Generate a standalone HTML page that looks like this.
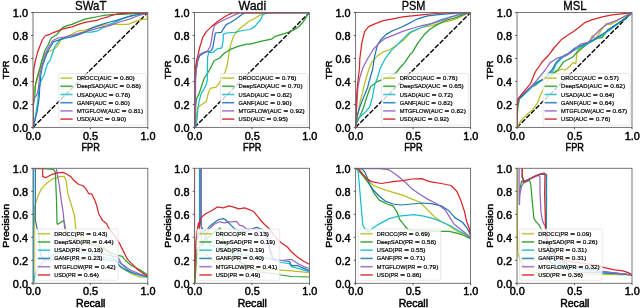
<!DOCTYPE html>
<html><head><meta charset="utf-8"><style>
html,body{margin:0;padding:0;background:#fff;width:640px;height:308px;overflow:hidden}
svg{display:block;will-change:transform}
text{font-family:"Liberation Sans", sans-serif}
</style></head><body>
<svg width="640" height="308" viewBox="0 0 640 308">
<rect width="640" height="308" fill="#fff"/>
<clipPath id="c00"><rect x="33.0" y="12.5" width="114.8" height="114.90"/></clipPath>
<g clip-path="url(#c00)">
<line x1="33.0" y1="127.4" x2="147.8" y2="12.5" stroke="#000" stroke-width="1.4" stroke-dasharray="5,1.6"/>
<path d="M33.00,127.30 L33.00,95.00 L33.90,93.20 L34.50,88.00 L36.50,82.00 L38.30,75.00 L40.30,68.00 L41.80,62.00 L42.90,57.70 L45.60,52.80 L50.50,50.80 L52.80,49.70 L56.70,47.00 L59.30,43.20 L60.60,39.90 L64.50,38.00 L69.70,35.40 L72.00,34.00 L78.50,30.80 L85.00,30.20 L91.50,28.20 L98.00,26.30 L104.50,25.00 L110.00,24.00 L116.50,24.30 L128.20,24.30 L134.70,21.70 L141.20,19.70 L147.00,19.10 L147.50,12.80" fill="none" stroke="#bcbd22" stroke-width="1.25" stroke-linejoin="round"/>
<path d="M33.00,127.30 L33.20,106.20 L33.90,102.30 L34.90,95.80 L35.20,88.00 L36.00,82.00 L37.80,75.00 L39.80,68.40 L41.30,62.50 L42.70,57.70 L44.70,50.80 L48.10,45.00 L50.20,40.00 L51.50,38.00 L53.40,36.70 L56.70,34.70 L59.30,31.50 L62.50,27.60 L67.10,25.60 L72.00,24.30 L78.50,21.70 L85.00,19.10 L91.50,17.80 L98.00,16.50 L105.80,15.20 L112.00,14.50 L120.40,14.30 L129.50,14.00 L136.00,13.60 L147.50,12.80" fill="none" stroke="#2ca02c" stroke-width="1.25" stroke-linejoin="round"/>
<path d="M33.20,127.00 L34.20,123.00 L35.80,114.00 L37.80,101.00 L39.10,88.00 L40.40,82.50 L42.40,78.00 L44.20,75.00 L45.60,69.30 L47.60,63.50 L50.00,60.60 L52.00,54.70 L54.70,47.00 L57.30,43.20 L59.90,39.90 L63.20,38.00 L67.10,37.30 L72.00,36.50 L78.50,34.10 L85.00,32.10 L91.50,32.10 L98.00,30.80 L101.90,28.20 L107.10,26.30 L110.00,24.30 L116.50,21.70 L123.00,18.40 L129.50,16.50 L138.60,14.50 L147.50,12.80" fill="none" stroke="#17becf" stroke-width="1.25" stroke-linejoin="round"/>
<path d="M33.00,127.30 L33.60,125.70 L35.20,119.20 L37.10,111.40 L39.10,98.40 L39.70,88.00 L40.80,75.00 L42.20,67.40 L44.70,59.60 L48.10,50.80 L51.50,45.00 L53.40,41.90 L59.30,39.90 L65.80,38.00 L72.00,37.00 L78.50,34.70 L85.00,32.10 L91.50,28.20 L98.00,25.60 L104.50,23.70 L110.00,22.00 L116.50,20.40 L123.00,18.40 L130.80,15.80 L138.60,14.50 L147.50,12.80" fill="none" stroke="#1f77b4" stroke-width="1.25" stroke-linejoin="round"/>
<path d="M33.00,127.30 L33.20,100.00 L35.20,97.10 L37.10,94.50 L38.40,88.00 L39.80,75.00 L41.70,66.40 L43.70,59.60 L46.60,50.80 L50.00,45.00 L52.80,40.50 L58.00,38.00 L63.20,37.30 L68.40,36.00 L72.00,35.40 L78.50,33.40 L85.00,31.50 L91.50,30.20 L98.00,28.20 L104.50,26.30 L110.00,25.60 L116.50,23.00 L123.00,21.00 L129.50,19.10 L136.00,16.50 L142.50,14.50 L147.50,12.80" fill="none" stroke="#9467bd" stroke-width="1.25" stroke-linejoin="round"/>
<path d="M33.00,127.30 L32.90,88.00 L33.30,78.00 L33.50,75.00 L33.90,68.40 L35.40,60.60 L37.40,52.80 L40.30,45.00 L42.50,39.50 L45.00,36.00 L48.90,34.70 L52.80,32.80 L58.00,30.80 L63.20,28.90 L68.40,27.60 L72.00,26.90 L78.50,24.30 L85.00,22.40 L91.50,21.10 L96.70,20.40 L101.90,18.50 L107.10,17.20 L110.00,15.80 L117.80,13.90 L129.50,13.20 L147.50,12.90" fill="none" stroke="#d62728" stroke-width="1.25" stroke-linejoin="round"/>
</g>
<rect x="58.80" y="73.50" width="87.20" height="51.60" rx="1.5" fill="#fff" fill-opacity="0.8" stroke="#d8d8d8" stroke-width="0.6"/>
<line x1="60.40" y1="78.10" x2="72.60" y2="78.10" stroke="#bcbd22" stroke-width="1.6" stroke-opacity="0.85"/>
<text x="76.90" y="80.10" font-size="6.22" textLength="34.76" lengthAdjust="spacingAndGlyphs" fill="#000" stroke="#000" stroke-width="0.2">DROCC(AUC</text>
<text x="113.46" y="80.10" font-size="6.22" textLength="4.73" lengthAdjust="spacingAndGlyphs" fill="#000" stroke="#000" stroke-width="0.2">=</text>
<text x="119.99" y="80.10" font-size="6.22" textLength="14.78" lengthAdjust="spacingAndGlyphs" fill="#000" stroke="#000" stroke-width="0.2">0.80)</text>
<line x1="60.40" y1="86.30" x2="72.60" y2="86.30" stroke="#2ca02c" stroke-width="1.6" stroke-opacity="0.85"/>
<text x="76.90" y="88.30" font-size="6.22" textLength="40.95" lengthAdjust="spacingAndGlyphs" fill="#000" stroke="#000" stroke-width="0.2">DeepSAD(AUC</text>
<text x="119.64" y="88.30" font-size="6.22" textLength="4.73" lengthAdjust="spacingAndGlyphs" fill="#000" stroke="#000" stroke-width="0.2">=</text>
<text x="126.17" y="88.30" font-size="6.22" textLength="14.78" lengthAdjust="spacingAndGlyphs" fill="#000" stroke="#000" stroke-width="0.2">0.88)</text>
<line x1="60.40" y1="94.50" x2="72.60" y2="94.50" stroke="#17becf" stroke-width="1.6" stroke-opacity="0.85"/>
<text x="76.90" y="96.50" font-size="6.22" textLength="30.19" lengthAdjust="spacingAndGlyphs" fill="#000" stroke="#000" stroke-width="0.2">USAD(AUC</text>
<text x="108.89" y="96.50" font-size="6.22" textLength="4.73" lengthAdjust="spacingAndGlyphs" fill="#000" stroke="#000" stroke-width="0.2">=</text>
<text x="115.42" y="96.50" font-size="6.22" textLength="14.78" lengthAdjust="spacingAndGlyphs" fill="#000" stroke="#000" stroke-width="0.2">0.78)</text>
<line x1="60.40" y1="102.70" x2="72.60" y2="102.70" stroke="#1f77b4" stroke-width="1.6" stroke-opacity="0.85"/>
<text x="76.90" y="104.70" font-size="6.22" textLength="29.87" lengthAdjust="spacingAndGlyphs" fill="#000" stroke="#000" stroke-width="0.2">GANF(AUC</text>
<text x="108.57" y="104.70" font-size="6.22" textLength="4.73" lengthAdjust="spacingAndGlyphs" fill="#000" stroke="#000" stroke-width="0.2">=</text>
<text x="115.10" y="104.70" font-size="6.22" textLength="14.78" lengthAdjust="spacingAndGlyphs" fill="#000" stroke="#000" stroke-width="0.2">0.80)</text>
<line x1="60.40" y1="110.90" x2="72.60" y2="110.90" stroke="#9467bd" stroke-width="1.6" stroke-opacity="0.85"/>
<text x="76.90" y="112.90" font-size="6.22" textLength="43.08" lengthAdjust="spacingAndGlyphs" fill="#000" stroke="#000" stroke-width="0.2">MTGFLOW(AUC</text>
<text x="121.78" y="112.90" font-size="6.22" textLength="4.73" lengthAdjust="spacingAndGlyphs" fill="#000" stroke="#000" stroke-width="0.2">=</text>
<text x="128.31" y="112.90" font-size="6.22" textLength="14.78" lengthAdjust="spacingAndGlyphs" fill="#000" stroke="#000" stroke-width="0.2">0.81)</text>
<line x1="60.40" y1="119.10" x2="72.60" y2="119.10" stroke="#d62728" stroke-width="1.6" stroke-opacity="0.85"/>
<text x="76.90" y="121.10" font-size="6.22" textLength="26.22" lengthAdjust="spacingAndGlyphs" fill="#000" stroke="#000" stroke-width="0.2">USD(AUC</text>
<text x="104.92" y="121.10" font-size="6.22" textLength="4.73" lengthAdjust="spacingAndGlyphs" fill="#000" stroke="#000" stroke-width="0.2">=</text>
<text x="111.45" y="121.10" font-size="6.22" textLength="14.78" lengthAdjust="spacingAndGlyphs" fill="#000" stroke="#000" stroke-width="0.2">0.90)</text>
<rect x="33.0" y="12.5" width="114.8" height="114.90" fill="none" stroke="#666" stroke-width="0.9"/>
<line x1="31.2" y1="127.40" x2="33.0" y2="127.40" stroke="#444" stroke-width="0.9"/>
<text x="28.00" y="132.00" font-size="10.26" text-anchor="end" textLength="15.11" lengthAdjust="spacingAndGlyphs" fill="#000" stroke="#000" stroke-width="0.45" >0.0</text>
<line x1="31.2" y1="104.42" x2="33.0" y2="104.42" stroke="#444" stroke-width="0.9"/>
<text x="28.00" y="109.02" font-size="10.26" text-anchor="end" textLength="15.11" lengthAdjust="spacingAndGlyphs" fill="#000" stroke="#000" stroke-width="0.45" >0.2</text>
<line x1="31.2" y1="81.44" x2="33.0" y2="81.44" stroke="#444" stroke-width="0.9"/>
<text x="28.00" y="86.04" font-size="10.26" text-anchor="end" textLength="15.11" lengthAdjust="spacingAndGlyphs" fill="#000" stroke="#000" stroke-width="0.45" >0.4</text>
<line x1="31.2" y1="58.46" x2="33.0" y2="58.46" stroke="#444" stroke-width="0.9"/>
<text x="28.00" y="63.06" font-size="10.26" text-anchor="end" textLength="15.11" lengthAdjust="spacingAndGlyphs" fill="#000" stroke="#000" stroke-width="0.45" >0.6</text>
<line x1="31.2" y1="35.48" x2="33.0" y2="35.48" stroke="#444" stroke-width="0.9"/>
<text x="28.00" y="40.08" font-size="10.26" text-anchor="end" textLength="15.11" lengthAdjust="spacingAndGlyphs" fill="#000" stroke="#000" stroke-width="0.45" >0.8</text>
<line x1="31.2" y1="12.50" x2="33.0" y2="12.50" stroke="#444" stroke-width="0.9"/>
<text x="28.00" y="17.10" font-size="10.26" text-anchor="end" textLength="15.11" lengthAdjust="spacingAndGlyphs" fill="#000" stroke="#000" stroke-width="0.45" >1.0</text>
<line x1="33.00" y1="127.4" x2="33.00" y2="129.20000000000002" stroke="#444" stroke-width="0.9"/>
<text x="33.20" y="139.80" font-size="10.26" text-anchor="middle" textLength="15.11" lengthAdjust="spacingAndGlyphs" fill="#000" stroke="#000" stroke-width="0.45" >0.0</text>
<line x1="90.40" y1="127.4" x2="90.40" y2="129.20000000000002" stroke="#444" stroke-width="0.9"/>
<text x="90.60" y="139.80" font-size="10.26" text-anchor="middle" textLength="15.11" lengthAdjust="spacingAndGlyphs" fill="#000" stroke="#000" stroke-width="0.45" >0.5</text>
<line x1="147.80" y1="127.4" x2="147.80" y2="129.20000000000002" stroke="#444" stroke-width="0.9"/>
<text x="148.00" y="139.80" font-size="10.26" text-anchor="middle" textLength="15.11" lengthAdjust="spacingAndGlyphs" fill="#000" stroke="#000" stroke-width="0.45" >1.0</text>
<text x="90.70" y="151.10" font-size="10.00" text-anchor="middle" textLength="18.36" lengthAdjust="spacingAndGlyphs" fill="#000" stroke="#000" stroke-width="0.45" >FPR</text>
<text x="0.00" y="0.00" font-size="9.51" text-anchor="middle" textLength="18.71" lengthAdjust="spacingAndGlyphs" fill="#000" stroke="#000" stroke-width="0.45" transform="translate(9.30,69.95) rotate(-90)">TPR</text>
<text x="90.80" y="9.60" font-size="12.20" text-anchor="middle" textLength="31.45" lengthAdjust="spacingAndGlyphs" fill="#000" stroke="#000" stroke-width="0.3" >SWaT</text>
<clipPath id="c01"><rect x="194.5" y="12.5" width="115.0" height="114.90"/></clipPath>
<g clip-path="url(#c01)">
<line x1="194.5" y1="127.4" x2="309.5" y2="12.5" stroke="#000" stroke-width="1.4" stroke-dasharray="5,1.6"/>
<path d="M194.90,127.30 L196.50,117.00 L197.20,107.90 L199.10,106.60 L202.40,104.00 L206.30,101.40 L208.20,93.60 L210.20,88.40 L216.00,87.10 L219.30,83.20 L221.50,78.00 L224.00,74.00 L225.80,70.00 L227.10,66.00 L228.40,56.90 L229.50,50.00 L231.00,43.90 L233.90,35.30 L238.80,29.50 L243.70,25.60 L248.50,21.70 L252.00,19.70 L255.80,17.80 L260.70,14.90 L263.60,12.60 L309.30,12.60" fill="none" stroke="#bcbd22" stroke-width="1.25" stroke-linejoin="round"/>
<path d="M194.90,127.30 L195.20,110.50 L196.50,98.80 L199.10,93.60 L201.70,85.80 L204.30,78.00 L206.30,75.10 L208.90,71.20 L211.50,66.00 L214.10,60.80 L219.30,58.20 L224.50,53.00 L231.00,49.10 L238.80,46.10 L246.60,44.10 L250.00,44.10 L261.70,41.20 L271.40,39.20 L275.30,36.30 L285.10,33.40 L292.90,30.50 L297.80,27.50 L302.60,22.70 L306.50,16.80 L308.50,12.90 L309.30,12.60" fill="none" stroke="#2ca02c" stroke-width="1.25" stroke-linejoin="round"/>
<path d="M195.50,127.30 L196.50,122.00 L197.20,118.00 L197.80,109.20 L199.10,101.40 L201.10,93.60 L203.70,89.70 L206.30,84.50 L207.30,80.00 L207.60,57.00 L208.90,52.30 L213.40,52.30 L216.70,49.10 L221.90,47.80 L223.20,40.00 L223.20,34.40 L226.10,33.00 L234.90,32.40 L242.70,30.50 L250.00,29.50 L254.90,26.60 L257.80,22.70 L260.70,19.70 L262.70,14.90 L265.60,13.50 L269.50,12.60 L309.30,12.60" fill="none" stroke="#17becf" stroke-width="1.25" stroke-linejoin="round"/>
<path d="M194.90,127.30 L195.20,80.00 L195.90,72.50 L197.80,60.80 L199.80,55.60 L205.00,52.30 L210.80,51.00 L212.80,47.80 L214.10,40.00 L215.40,33.00 L221.20,32.40 L226.10,24.60 L230.00,22.70 L234.90,19.70 L238.80,16.80 L242.70,13.90 L245.60,12.60 L309.30,12.60" fill="none" stroke="#1f77b4" stroke-width="1.25" stroke-linejoin="round"/>
<path d="M194.90,127.00 L195.50,107.00 L195.60,80.00 L196.50,66.00 L197.80,58.20 L199.80,54.30 L203.70,52.30 L207.60,50.90 L210.20,46.50 L211.50,40.00 L212.50,33.40 L214.40,25.60 L218.30,22.70 L224.20,19.70 L231.00,16.80 L236.80,13.90 L239.80,12.60 L309.30,12.60" fill="none" stroke="#9467bd" stroke-width="1.25" stroke-linejoin="round"/>
<path d="M194.60,127.30 L194.60,80.00 L195.20,69.90 L196.50,60.80 L198.50,53.00 L199.80,47.00 L201.10,43.00 L202.70,37.30 L206.60,31.40 L211.50,26.60 L217.30,21.70 L223.20,17.80 L229.00,14.30 L232.90,12.90 L309.30,12.60" fill="none" stroke="#d62728" stroke-width="1.25" stroke-linejoin="round"/>
</g>
<rect x="220.50" y="73.50" width="87.20" height="51.60" rx="1.5" fill="#fff" fill-opacity="0.8" stroke="#d8d8d8" stroke-width="0.6"/>
<line x1="222.10" y1="78.10" x2="234.30" y2="78.10" stroke="#bcbd22" stroke-width="1.6" stroke-opacity="0.85"/>
<text x="238.60" y="80.10" font-size="6.22" textLength="34.76" lengthAdjust="spacingAndGlyphs" fill="#000" stroke="#000" stroke-width="0.2">DROCC(AUC</text>
<text x="275.16" y="80.10" font-size="6.22" textLength="4.73" lengthAdjust="spacingAndGlyphs" fill="#000" stroke="#000" stroke-width="0.2">=</text>
<text x="281.69" y="80.10" font-size="6.22" textLength="14.78" lengthAdjust="spacingAndGlyphs" fill="#000" stroke="#000" stroke-width="0.2">0.76)</text>
<line x1="222.10" y1="86.30" x2="234.30" y2="86.30" stroke="#2ca02c" stroke-width="1.6" stroke-opacity="0.85"/>
<text x="238.60" y="88.30" font-size="6.22" textLength="40.95" lengthAdjust="spacingAndGlyphs" fill="#000" stroke="#000" stroke-width="0.2">DeepSAD(AUC</text>
<text x="281.34" y="88.30" font-size="6.22" textLength="4.73" lengthAdjust="spacingAndGlyphs" fill="#000" stroke="#000" stroke-width="0.2">=</text>
<text x="287.87" y="88.30" font-size="6.22" textLength="14.78" lengthAdjust="spacingAndGlyphs" fill="#000" stroke="#000" stroke-width="0.2">0.70)</text>
<line x1="222.10" y1="94.50" x2="234.30" y2="94.50" stroke="#17becf" stroke-width="1.6" stroke-opacity="0.85"/>
<text x="238.60" y="96.50" font-size="6.22" textLength="30.19" lengthAdjust="spacingAndGlyphs" fill="#000" stroke="#000" stroke-width="0.2">USAD(AUC</text>
<text x="270.59" y="96.50" font-size="6.22" textLength="4.73" lengthAdjust="spacingAndGlyphs" fill="#000" stroke="#000" stroke-width="0.2">=</text>
<text x="277.12" y="96.50" font-size="6.22" textLength="14.78" lengthAdjust="spacingAndGlyphs" fill="#000" stroke="#000" stroke-width="0.2">0.82)</text>
<line x1="222.10" y1="102.70" x2="234.30" y2="102.70" stroke="#1f77b4" stroke-width="1.6" stroke-opacity="0.85"/>
<text x="238.60" y="104.70" font-size="6.22" textLength="29.87" lengthAdjust="spacingAndGlyphs" fill="#000" stroke="#000" stroke-width="0.2">GANF(AUC</text>
<text x="270.27" y="104.70" font-size="6.22" textLength="4.73" lengthAdjust="spacingAndGlyphs" fill="#000" stroke="#000" stroke-width="0.2">=</text>
<text x="276.80" y="104.70" font-size="6.22" textLength="14.78" lengthAdjust="spacingAndGlyphs" fill="#000" stroke="#000" stroke-width="0.2">0.90)</text>
<line x1="222.10" y1="110.90" x2="234.30" y2="110.90" stroke="#9467bd" stroke-width="1.6" stroke-opacity="0.85"/>
<text x="238.60" y="112.90" font-size="6.22" textLength="43.08" lengthAdjust="spacingAndGlyphs" fill="#000" stroke="#000" stroke-width="0.2">MTGFLOW(AUC</text>
<text x="283.48" y="112.90" font-size="6.22" textLength="4.73" lengthAdjust="spacingAndGlyphs" fill="#000" stroke="#000" stroke-width="0.2">=</text>
<text x="290.01" y="112.90" font-size="6.22" textLength="14.78" lengthAdjust="spacingAndGlyphs" fill="#000" stroke="#000" stroke-width="0.2">0.92)</text>
<line x1="222.10" y1="119.10" x2="234.30" y2="119.10" stroke="#d62728" stroke-width="1.6" stroke-opacity="0.85"/>
<text x="238.60" y="121.10" font-size="6.22" textLength="26.22" lengthAdjust="spacingAndGlyphs" fill="#000" stroke="#000" stroke-width="0.2">USD(AUC</text>
<text x="266.62" y="121.10" font-size="6.22" textLength="4.73" lengthAdjust="spacingAndGlyphs" fill="#000" stroke="#000" stroke-width="0.2">=</text>
<text x="273.15" y="121.10" font-size="6.22" textLength="14.78" lengthAdjust="spacingAndGlyphs" fill="#000" stroke="#000" stroke-width="0.2">0.95)</text>
<rect x="194.5" y="12.5" width="115.0" height="114.90" fill="none" stroke="#666" stroke-width="0.9"/>
<line x1="192.7" y1="127.40" x2="194.5" y2="127.40" stroke="#444" stroke-width="0.9"/>
<text x="189.50" y="132.00" font-size="10.26" text-anchor="end" textLength="15.11" lengthAdjust="spacingAndGlyphs" fill="#000" stroke="#000" stroke-width="0.45" >0.0</text>
<line x1="192.7" y1="104.42" x2="194.5" y2="104.42" stroke="#444" stroke-width="0.9"/>
<text x="189.50" y="109.02" font-size="10.26" text-anchor="end" textLength="15.11" lengthAdjust="spacingAndGlyphs" fill="#000" stroke="#000" stroke-width="0.45" >0.2</text>
<line x1="192.7" y1="81.44" x2="194.5" y2="81.44" stroke="#444" stroke-width="0.9"/>
<text x="189.50" y="86.04" font-size="10.26" text-anchor="end" textLength="15.11" lengthAdjust="spacingAndGlyphs" fill="#000" stroke="#000" stroke-width="0.45" >0.4</text>
<line x1="192.7" y1="58.46" x2="194.5" y2="58.46" stroke="#444" stroke-width="0.9"/>
<text x="189.50" y="63.06" font-size="10.26" text-anchor="end" textLength="15.11" lengthAdjust="spacingAndGlyphs" fill="#000" stroke="#000" stroke-width="0.45" >0.6</text>
<line x1="192.7" y1="35.48" x2="194.5" y2="35.48" stroke="#444" stroke-width="0.9"/>
<text x="189.50" y="40.08" font-size="10.26" text-anchor="end" textLength="15.11" lengthAdjust="spacingAndGlyphs" fill="#000" stroke="#000" stroke-width="0.45" >0.8</text>
<line x1="192.7" y1="12.50" x2="194.5" y2="12.50" stroke="#444" stroke-width="0.9"/>
<text x="189.50" y="17.10" font-size="10.26" text-anchor="end" textLength="15.11" lengthAdjust="spacingAndGlyphs" fill="#000" stroke="#000" stroke-width="0.45" >1.0</text>
<line x1="194.50" y1="127.4" x2="194.50" y2="129.20000000000002" stroke="#444" stroke-width="0.9"/>
<text x="194.70" y="139.80" font-size="10.26" text-anchor="middle" textLength="15.11" lengthAdjust="spacingAndGlyphs" fill="#000" stroke="#000" stroke-width="0.45" >0.0</text>
<line x1="252.00" y1="127.4" x2="252.00" y2="129.20000000000002" stroke="#444" stroke-width="0.9"/>
<text x="252.20" y="139.80" font-size="10.26" text-anchor="middle" textLength="15.11" lengthAdjust="spacingAndGlyphs" fill="#000" stroke="#000" stroke-width="0.45" >0.5</text>
<line x1="309.50" y1="127.4" x2="309.50" y2="129.20000000000002" stroke="#444" stroke-width="0.9"/>
<text x="309.70" y="139.80" font-size="10.26" text-anchor="middle" textLength="15.11" lengthAdjust="spacingAndGlyphs" fill="#000" stroke="#000" stroke-width="0.45" >1.0</text>
<text x="252.30" y="151.10" font-size="10.00" text-anchor="middle" textLength="18.36" lengthAdjust="spacingAndGlyphs" fill="#000" stroke="#000" stroke-width="0.45" >FPR</text>
<text x="0.00" y="0.00" font-size="9.51" text-anchor="middle" textLength="18.71" lengthAdjust="spacingAndGlyphs" fill="#000" stroke="#000" stroke-width="0.45" transform="translate(170.80,69.95) rotate(-90)">TPR</text>
<text x="252.40" y="9.60" font-size="12.20" text-anchor="middle" textLength="27.69" lengthAdjust="spacingAndGlyphs" fill="#000" stroke="#000" stroke-width="0.3" >Wadi</text>
<clipPath id="c02"><rect x="355.6" y="12.5" width="115.0" height="114.90"/></clipPath>
<g clip-path="url(#c02)">
<line x1="355.6" y1="127.4" x2="470.6" y2="12.5" stroke="#000" stroke-width="1.4" stroke-dasharray="5,1.6"/>
<path d="M355.90,127.30 L355.90,124.50 L357.90,114.80 L359.80,103.00 L362.80,91.40 L365.70,79.70 L368.60,70.00 L371.50,62.60 L377.40,55.80 L383.20,51.90 L389.10,50.00 L396.90,45.10 L404.70,39.20 L410.00,33.00 L421.70,27.50 L431.50,25.60 L441.20,22.70 L451.00,20.70 L458.80,17.80 L466.60,13.90 L470.90,12.60" fill="none" stroke="#bcbd22" stroke-width="1.25" stroke-linejoin="round"/>
<path d="M355.90,127.30 L355.90,124.50 L359.80,116.70 L363.70,107.00 L366.70,97.20 L370.60,86.50 L377.40,81.60 L387.10,77.70 L395.90,72.90 L399.80,68.00 L404.70,62.60 L410.50,53.90 L412.00,52.90 L417.80,43.10 L423.70,35.30 L429.50,29.50 L437.30,24.60 L445.10,20.70 L454.90,17.80 L462.70,14.90 L468.50,12.70 L470.90,12.60" fill="none" stroke="#2ca02c" stroke-width="1.25" stroke-linejoin="round"/>
<path d="M355.90,127.30 L355.60,123.60 L357.90,118.70 L364.70,112.80 L369.60,107.00 L372.50,97.20 L374.50,85.50 L377.40,77.70 L380.30,68.00 L385.20,58.70 L391.00,50.90 L396.90,45.10 L402.70,39.20 L408.60,33.40 L412.00,31.40 L421.70,27.50 L431.50,23.60 L441.20,19.70 L451.00,16.80 L460.70,14.30 L470.90,12.60" fill="none" stroke="#17becf" stroke-width="1.25" stroke-linejoin="round"/>
<path d="M355.90,127.30 L355.60,124.50 L356.90,116.70 L359.80,107.00 L362.80,99.20 L367.60,87.50 L369.60,79.70 L372.50,70.00 L374.50,56.80 L377.40,45.10 L381.30,39.20 L386.20,34.40 L393.00,30.50 L400.80,27.50 L408.60,23.60 L412.00,21.70 L417.80,18.80 L427.60,15.80 L441.20,14.30 L456.80,13.10 L468.50,12.60 L470.90,12.60" fill="none" stroke="#1f77b4" stroke-width="1.25" stroke-linejoin="round"/>
<path d="M355.90,127.30 L355.90,122.60 L356.90,103.00 L357.90,87.50 L359.80,77.70 L362.80,68.00 L367.60,58.70 L373.50,49.00 L379.30,43.10 L385.20,38.30 L393.00,35.30 L402.70,31.40 L412.00,28.50 L421.70,25.60 L431.50,23.60 L441.20,20.70 L451.00,16.80 L462.70,13.50 L470.90,12.60" fill="none" stroke="#9467bd" stroke-width="1.25" stroke-linejoin="round"/>
<path d="M355.90,127.30 L355.90,116.70 L356.90,91.40 L358.30,77.70 L359.50,68.00 L359.80,58.70 L361.80,43.10 L364.70,31.40 L368.60,26.60 L375.40,23.60 L383.20,20.70 L393.00,18.80 L402.70,16.80 L412.00,15.80 L421.70,14.90 L435.40,13.50 L451.00,12.70 L470.90,12.60" fill="none" stroke="#d62728" stroke-width="1.25" stroke-linejoin="round"/>
</g>
<rect x="381.60" y="73.50" width="87.20" height="51.60" rx="1.5" fill="#fff" fill-opacity="0.8" stroke="#d8d8d8" stroke-width="0.6"/>
<line x1="383.20" y1="78.10" x2="395.40" y2="78.10" stroke="#bcbd22" stroke-width="1.6" stroke-opacity="0.85"/>
<text x="399.70" y="80.10" font-size="6.22" textLength="34.76" lengthAdjust="spacingAndGlyphs" fill="#000" stroke="#000" stroke-width="0.2">DROCC(AUC</text>
<text x="436.26" y="80.10" font-size="6.22" textLength="4.73" lengthAdjust="spacingAndGlyphs" fill="#000" stroke="#000" stroke-width="0.2">=</text>
<text x="442.79" y="80.10" font-size="6.22" textLength="14.78" lengthAdjust="spacingAndGlyphs" fill="#000" stroke="#000" stroke-width="0.2">0.76)</text>
<line x1="383.20" y1="86.30" x2="395.40" y2="86.30" stroke="#2ca02c" stroke-width="1.6" stroke-opacity="0.85"/>
<text x="399.70" y="88.30" font-size="6.22" textLength="40.95" lengthAdjust="spacingAndGlyphs" fill="#000" stroke="#000" stroke-width="0.2">DeepSAD(AUC</text>
<text x="442.44" y="88.30" font-size="6.22" textLength="4.73" lengthAdjust="spacingAndGlyphs" fill="#000" stroke="#000" stroke-width="0.2">=</text>
<text x="448.97" y="88.30" font-size="6.22" textLength="14.78" lengthAdjust="spacingAndGlyphs" fill="#000" stroke="#000" stroke-width="0.2">0.65)</text>
<line x1="383.20" y1="94.50" x2="395.40" y2="94.50" stroke="#17becf" stroke-width="1.6" stroke-opacity="0.85"/>
<text x="399.70" y="96.50" font-size="6.22" textLength="30.19" lengthAdjust="spacingAndGlyphs" fill="#000" stroke="#000" stroke-width="0.2">USAD(AUC</text>
<text x="431.69" y="96.50" font-size="6.22" textLength="4.73" lengthAdjust="spacingAndGlyphs" fill="#000" stroke="#000" stroke-width="0.2">=</text>
<text x="438.22" y="96.50" font-size="6.22" textLength="14.78" lengthAdjust="spacingAndGlyphs" fill="#000" stroke="#000" stroke-width="0.2">0.72)</text>
<line x1="383.20" y1="102.70" x2="395.40" y2="102.70" stroke="#1f77b4" stroke-width="1.6" stroke-opacity="0.85"/>
<text x="399.70" y="104.70" font-size="6.22" textLength="29.87" lengthAdjust="spacingAndGlyphs" fill="#000" stroke="#000" stroke-width="0.2">GANF(AUC</text>
<text x="431.37" y="104.70" font-size="6.22" textLength="4.73" lengthAdjust="spacingAndGlyphs" fill="#000" stroke="#000" stroke-width="0.2">=</text>
<text x="437.90" y="104.70" font-size="6.22" textLength="14.78" lengthAdjust="spacingAndGlyphs" fill="#000" stroke="#000" stroke-width="0.2">0.82)</text>
<line x1="383.20" y1="110.90" x2="395.40" y2="110.90" stroke="#9467bd" stroke-width="1.6" stroke-opacity="0.85"/>
<text x="399.70" y="112.90" font-size="6.22" textLength="43.08" lengthAdjust="spacingAndGlyphs" fill="#000" stroke="#000" stroke-width="0.2">MTGFLOW(AUC</text>
<text x="444.58" y="112.90" font-size="6.22" textLength="4.73" lengthAdjust="spacingAndGlyphs" fill="#000" stroke="#000" stroke-width="0.2">=</text>
<text x="451.11" y="112.90" font-size="6.22" textLength="14.78" lengthAdjust="spacingAndGlyphs" fill="#000" stroke="#000" stroke-width="0.2">0.82)</text>
<line x1="383.20" y1="119.10" x2="395.40" y2="119.10" stroke="#d62728" stroke-width="1.6" stroke-opacity="0.85"/>
<text x="399.70" y="121.10" font-size="6.22" textLength="26.22" lengthAdjust="spacingAndGlyphs" fill="#000" stroke="#000" stroke-width="0.2">USD(AUC</text>
<text x="427.72" y="121.10" font-size="6.22" textLength="4.73" lengthAdjust="spacingAndGlyphs" fill="#000" stroke="#000" stroke-width="0.2">=</text>
<text x="434.25" y="121.10" font-size="6.22" textLength="14.78" lengthAdjust="spacingAndGlyphs" fill="#000" stroke="#000" stroke-width="0.2">0.92)</text>
<rect x="355.6" y="12.5" width="115.0" height="114.90" fill="none" stroke="#666" stroke-width="0.9"/>
<line x1="353.8" y1="127.40" x2="355.6" y2="127.40" stroke="#444" stroke-width="0.9"/>
<text x="350.60" y="132.00" font-size="10.26" text-anchor="end" textLength="15.11" lengthAdjust="spacingAndGlyphs" fill="#000" stroke="#000" stroke-width="0.45" >0.0</text>
<line x1="353.8" y1="104.42" x2="355.6" y2="104.42" stroke="#444" stroke-width="0.9"/>
<text x="350.60" y="109.02" font-size="10.26" text-anchor="end" textLength="15.11" lengthAdjust="spacingAndGlyphs" fill="#000" stroke="#000" stroke-width="0.45" >0.2</text>
<line x1="353.8" y1="81.44" x2="355.6" y2="81.44" stroke="#444" stroke-width="0.9"/>
<text x="350.60" y="86.04" font-size="10.26" text-anchor="end" textLength="15.11" lengthAdjust="spacingAndGlyphs" fill="#000" stroke="#000" stroke-width="0.45" >0.4</text>
<line x1="353.8" y1="58.46" x2="355.6" y2="58.46" stroke="#444" stroke-width="0.9"/>
<text x="350.60" y="63.06" font-size="10.26" text-anchor="end" textLength="15.11" lengthAdjust="spacingAndGlyphs" fill="#000" stroke="#000" stroke-width="0.45" >0.6</text>
<line x1="353.8" y1="35.48" x2="355.6" y2="35.48" stroke="#444" stroke-width="0.9"/>
<text x="350.60" y="40.08" font-size="10.26" text-anchor="end" textLength="15.11" lengthAdjust="spacingAndGlyphs" fill="#000" stroke="#000" stroke-width="0.45" >0.8</text>
<line x1="353.8" y1="12.50" x2="355.6" y2="12.50" stroke="#444" stroke-width="0.9"/>
<text x="350.60" y="17.10" font-size="10.26" text-anchor="end" textLength="15.11" lengthAdjust="spacingAndGlyphs" fill="#000" stroke="#000" stroke-width="0.45" >1.0</text>
<line x1="355.60" y1="127.4" x2="355.60" y2="129.20000000000002" stroke="#444" stroke-width="0.9"/>
<text x="355.80" y="139.80" font-size="10.26" text-anchor="middle" textLength="15.11" lengthAdjust="spacingAndGlyphs" fill="#000" stroke="#000" stroke-width="0.45" >0.0</text>
<line x1="413.10" y1="127.4" x2="413.10" y2="129.20000000000002" stroke="#444" stroke-width="0.9"/>
<text x="413.30" y="139.80" font-size="10.26" text-anchor="middle" textLength="15.11" lengthAdjust="spacingAndGlyphs" fill="#000" stroke="#000" stroke-width="0.45" >0.5</text>
<line x1="470.60" y1="127.4" x2="470.60" y2="129.20000000000002" stroke="#444" stroke-width="0.9"/>
<text x="470.80" y="139.80" font-size="10.26" text-anchor="middle" textLength="15.11" lengthAdjust="spacingAndGlyphs" fill="#000" stroke="#000" stroke-width="0.45" >1.0</text>
<text x="413.40" y="151.10" font-size="10.00" text-anchor="middle" textLength="18.36" lengthAdjust="spacingAndGlyphs" fill="#000" stroke="#000" stroke-width="0.45" >FPR</text>
<text x="0.00" y="0.00" font-size="9.51" text-anchor="middle" textLength="18.71" lengthAdjust="spacingAndGlyphs" fill="#000" stroke="#000" stroke-width="0.45" transform="translate(331.90,69.95) rotate(-90)">TPR</text>
<text x="413.50" y="9.60" font-size="12.20" text-anchor="middle" textLength="23.74" lengthAdjust="spacingAndGlyphs" fill="#000" stroke="#000" stroke-width="0.3" >PSM</text>
<clipPath id="c03"><rect x="517.0" y="12.5" width="115.0" height="114.90"/></clipPath>
<g clip-path="url(#c03)">
<line x1="517.0" y1="127.4" x2="632.0" y2="12.5" stroke="#000" stroke-width="1.4" stroke-dasharray="5,1.6"/>
<path d="M517.30,127.30 L520.80,120.60 L526.70,114.80 L532.50,109.90 L537.40,103.10 L540.30,95.30 L543.30,89.40 L547.20,81.60 L551.10,75.80 L555.90,71.90 L561.80,69.00 L564.70,70.00 L568.60,67.50 L573.00,62.60 L575.90,63.60 L576.90,52.90 L582.70,48.00 L589.60,41.20 L592.50,35.30 L595.40,39.20 L600.30,31.40 L606.10,23.60 L610.00,24.60 L615.90,21.70 L623.70,16.80 L632.30,12.60" fill="none" stroke="#bcbd22" stroke-width="1.25" stroke-linejoin="round"/>
<path d="M517.30,127.30 L517.30,116.70 L517.90,107.00 L519.90,97.20 L524.70,93.30 L530.60,87.50 L536.40,84.60 L542.00,80.00 L548.00,76.00 L553.00,73.00 L557.90,70.00 L563.70,61.70 L571.50,57.80 L573.00,56.80 L578.80,50.00 L584.70,46.10 L594.40,39.20 L602.20,37.30 L608.10,29.50 L617.80,23.60 L625.60,18.80 L632.30,12.60" fill="none" stroke="#2ca02c" stroke-width="1.25" stroke-linejoin="round"/>
<path d="M517.30,127.30 L517.30,107.00 L517.90,100.00 L521.00,97.50 L527.00,92.00 L533.00,86.00 L539.00,82.00 L545.00,79.00 L549.00,75.00 L553.00,71.00 L556.50,63.50 L562.50,57.50 L568.00,54.50 L573.00,50.90 L582.70,46.10 L592.50,41.20 L602.20,35.30 L612.00,28.50 L621.70,20.70 L632.30,12.60" fill="none" stroke="#17becf" stroke-width="1.25" stroke-linejoin="round"/>
<path d="M517.30,127.30 L517.30,107.00 L517.90,99.20 L520.80,97.20 L526.70,91.40 L532.50,85.50 L538.40,81.60 L544.20,78.70 L548.00,74.00 L552.00,70.00 L555.90,62.60 L561.80,56.80 L567.60,53.90 L575.00,48.00 L582.70,45.10 L592.50,40.20 L602.20,34.40 L612.00,27.50 L621.70,20.70 L632.30,12.60" fill="none" stroke="#1f77b4" stroke-width="1.25" stroke-linejoin="round"/>
<path d="M517.30,127.30 L517.30,107.00 L517.90,99.20 L521.80,94.30 L525.70,91.40 L532.50,85.50 L540.30,75.80 L545.20,70.00 L550.10,62.60 L557.90,57.80 L565.70,55.80 L571.50,51.90 L575.00,49.00 L580.80,44.10 L588.60,42.20 L594.40,35.30 L601.30,28.50 L608.10,23.60 L615.90,20.70 L623.70,16.80 L632.30,12.60" fill="none" stroke="#9467bd" stroke-width="1.25" stroke-linejoin="round"/>
<path d="M517.30,127.30 L517.00,126.50 L517.30,107.00 L517.90,99.20 L520.80,95.30 L525.70,89.40 L530.60,83.60 L534.50,73.80 L536.40,70.00 L539.40,66.00 L542.30,61.70 L548.10,55.80 L554.00,48.00 L561.80,39.20 L567.60,35.30 L575.00,30.50 L578.80,27.50 L584.70,22.70 L592.50,19.70 L602.20,16.80 L612.00,14.90 L621.70,13.90 L632.30,12.60" fill="none" stroke="#d62728" stroke-width="1.25" stroke-linejoin="round"/>
</g>
<rect x="543.00" y="73.50" width="87.20" height="51.60" rx="1.5" fill="#fff" fill-opacity="0.8" stroke="#d8d8d8" stroke-width="0.6"/>
<line x1="544.60" y1="78.10" x2="556.80" y2="78.10" stroke="#bcbd22" stroke-width="1.6" stroke-opacity="0.85"/>
<text x="561.10" y="80.10" font-size="6.22" textLength="34.76" lengthAdjust="spacingAndGlyphs" fill="#000" stroke="#000" stroke-width="0.2">DROCC(AUC</text>
<text x="597.66" y="80.10" font-size="6.22" textLength="4.73" lengthAdjust="spacingAndGlyphs" fill="#000" stroke="#000" stroke-width="0.2">=</text>
<text x="604.19" y="80.10" font-size="6.22" textLength="14.78" lengthAdjust="spacingAndGlyphs" fill="#000" stroke="#000" stroke-width="0.2">0.57)</text>
<line x1="544.60" y1="86.30" x2="556.80" y2="86.30" stroke="#2ca02c" stroke-width="1.6" stroke-opacity="0.85"/>
<text x="561.10" y="88.30" font-size="6.22" textLength="40.95" lengthAdjust="spacingAndGlyphs" fill="#000" stroke="#000" stroke-width="0.2">DeepSAD(AUC</text>
<text x="603.84" y="88.30" font-size="6.22" textLength="4.73" lengthAdjust="spacingAndGlyphs" fill="#000" stroke="#000" stroke-width="0.2">=</text>
<text x="610.37" y="88.30" font-size="6.22" textLength="14.78" lengthAdjust="spacingAndGlyphs" fill="#000" stroke="#000" stroke-width="0.2">0.62)</text>
<line x1="544.60" y1="94.50" x2="556.80" y2="94.50" stroke="#17becf" stroke-width="1.6" stroke-opacity="0.85"/>
<text x="561.10" y="96.50" font-size="6.22" textLength="30.19" lengthAdjust="spacingAndGlyphs" fill="#000" stroke="#000" stroke-width="0.2">USAD(AUC</text>
<text x="593.09" y="96.50" font-size="6.22" textLength="4.73" lengthAdjust="spacingAndGlyphs" fill="#000" stroke="#000" stroke-width="0.2">=</text>
<text x="599.62" y="96.50" font-size="6.22" textLength="14.78" lengthAdjust="spacingAndGlyphs" fill="#000" stroke="#000" stroke-width="0.2">0.64)</text>
<line x1="544.60" y1="102.70" x2="556.80" y2="102.70" stroke="#1f77b4" stroke-width="1.6" stroke-opacity="0.85"/>
<text x="561.10" y="104.70" font-size="6.22" textLength="29.87" lengthAdjust="spacingAndGlyphs" fill="#000" stroke="#000" stroke-width="0.2">GANF(AUC</text>
<text x="592.77" y="104.70" font-size="6.22" textLength="4.73" lengthAdjust="spacingAndGlyphs" fill="#000" stroke="#000" stroke-width="0.2">=</text>
<text x="599.30" y="104.70" font-size="6.22" textLength="14.78" lengthAdjust="spacingAndGlyphs" fill="#000" stroke="#000" stroke-width="0.2">0.64)</text>
<line x1="544.60" y1="110.90" x2="556.80" y2="110.90" stroke="#9467bd" stroke-width="1.6" stroke-opacity="0.85"/>
<text x="561.10" y="112.90" font-size="6.22" textLength="43.08" lengthAdjust="spacingAndGlyphs" fill="#000" stroke="#000" stroke-width="0.2">MTGFLOW(AUC</text>
<text x="605.98" y="112.90" font-size="6.22" textLength="4.73" lengthAdjust="spacingAndGlyphs" fill="#000" stroke="#000" stroke-width="0.2">=</text>
<text x="612.51" y="112.90" font-size="6.22" textLength="14.78" lengthAdjust="spacingAndGlyphs" fill="#000" stroke="#000" stroke-width="0.2">0.67)</text>
<line x1="544.60" y1="119.10" x2="556.80" y2="119.10" stroke="#d62728" stroke-width="1.6" stroke-opacity="0.85"/>
<text x="561.10" y="121.10" font-size="6.22" textLength="26.22" lengthAdjust="spacingAndGlyphs" fill="#000" stroke="#000" stroke-width="0.2">USD(AUC</text>
<text x="589.12" y="121.10" font-size="6.22" textLength="4.73" lengthAdjust="spacingAndGlyphs" fill="#000" stroke="#000" stroke-width="0.2">=</text>
<text x="595.65" y="121.10" font-size="6.22" textLength="14.78" lengthAdjust="spacingAndGlyphs" fill="#000" stroke="#000" stroke-width="0.2">0.76)</text>
<rect x="517.0" y="12.5" width="115.0" height="114.90" fill="none" stroke="#666" stroke-width="0.9"/>
<line x1="515.2" y1="127.40" x2="517.0" y2="127.40" stroke="#444" stroke-width="0.9"/>
<text x="512.00" y="132.00" font-size="10.26" text-anchor="end" textLength="15.11" lengthAdjust="spacingAndGlyphs" fill="#000" stroke="#000" stroke-width="0.45" >0.0</text>
<line x1="515.2" y1="104.42" x2="517.0" y2="104.42" stroke="#444" stroke-width="0.9"/>
<text x="512.00" y="109.02" font-size="10.26" text-anchor="end" textLength="15.11" lengthAdjust="spacingAndGlyphs" fill="#000" stroke="#000" stroke-width="0.45" >0.2</text>
<line x1="515.2" y1="81.44" x2="517.0" y2="81.44" stroke="#444" stroke-width="0.9"/>
<text x="512.00" y="86.04" font-size="10.26" text-anchor="end" textLength="15.11" lengthAdjust="spacingAndGlyphs" fill="#000" stroke="#000" stroke-width="0.45" >0.4</text>
<line x1="515.2" y1="58.46" x2="517.0" y2="58.46" stroke="#444" stroke-width="0.9"/>
<text x="512.00" y="63.06" font-size="10.26" text-anchor="end" textLength="15.11" lengthAdjust="spacingAndGlyphs" fill="#000" stroke="#000" stroke-width="0.45" >0.6</text>
<line x1="515.2" y1="35.48" x2="517.0" y2="35.48" stroke="#444" stroke-width="0.9"/>
<text x="512.00" y="40.08" font-size="10.26" text-anchor="end" textLength="15.11" lengthAdjust="spacingAndGlyphs" fill="#000" stroke="#000" stroke-width="0.45" >0.8</text>
<line x1="515.2" y1="12.50" x2="517.0" y2="12.50" stroke="#444" stroke-width="0.9"/>
<text x="512.00" y="17.10" font-size="10.26" text-anchor="end" textLength="15.11" lengthAdjust="spacingAndGlyphs" fill="#000" stroke="#000" stroke-width="0.45" >1.0</text>
<line x1="517.00" y1="127.4" x2="517.00" y2="129.20000000000002" stroke="#444" stroke-width="0.9"/>
<text x="517.20" y="139.80" font-size="10.26" text-anchor="middle" textLength="15.11" lengthAdjust="spacingAndGlyphs" fill="#000" stroke="#000" stroke-width="0.45" >0.0</text>
<line x1="574.50" y1="127.4" x2="574.50" y2="129.20000000000002" stroke="#444" stroke-width="0.9"/>
<text x="574.70" y="139.80" font-size="10.26" text-anchor="middle" textLength="15.11" lengthAdjust="spacingAndGlyphs" fill="#000" stroke="#000" stroke-width="0.45" >0.5</text>
<line x1="632.00" y1="127.4" x2="632.00" y2="129.20000000000002" stroke="#444" stroke-width="0.9"/>
<text x="632.20" y="139.80" font-size="10.26" text-anchor="middle" textLength="15.11" lengthAdjust="spacingAndGlyphs" fill="#000" stroke="#000" stroke-width="0.45" >1.0</text>
<text x="574.80" y="151.10" font-size="10.00" text-anchor="middle" textLength="18.36" lengthAdjust="spacingAndGlyphs" fill="#000" stroke="#000" stroke-width="0.45" >FPR</text>
<text x="0.00" y="0.00" font-size="9.51" text-anchor="middle" textLength="18.71" lengthAdjust="spacingAndGlyphs" fill="#000" stroke="#000" stroke-width="0.45" transform="translate(493.30,69.95) rotate(-90)">TPR</text>
<text x="574.90" y="9.60" font-size="12.20" text-anchor="middle" textLength="23.22" lengthAdjust="spacingAndGlyphs" fill="#000" stroke="#000" stroke-width="0.3" >MSL</text>
<clipPath id="c10"><rect x="33.0" y="168.3" width="114.8" height="115.00"/></clipPath>
<g clip-path="url(#c10)">
<path d="M34.00,283.50 L34.00,240.00 L34.50,215.00 L34.90,205.90 L37.80,196.20 L41.70,188.40 L47.50,182.50 L53.40,178.60 L59.20,176.70 L64.10,176.30 L66.10,180.60 L68.00,194.20 L71.60,205.70 L74.50,215.50 L75.50,227.20 L77.40,233.00 L85.00,240.00 L100.00,246.00 L106.70,249.00 L113.00,257.30 L121.30,267.70 L131.70,274.00 L140.00,277.10 L147.50,277.00" fill="none" stroke="#bcbd22" stroke-width="1.25" stroke-linejoin="round"/>
<path d="M42.70,168.60 L53.40,169.30 L55.30,171.80 L56.50,200.00 L57.00,223.30 L57.90,224.30 L60.90,222.30 L63.80,220.40 L64.80,225.20 L65.70,231.10 L70.00,237.00 L80.00,242.00 L100.50,247.00 L108.80,252.10 L118.10,255.30 L122.30,256.30 L125.40,260.50 L131.70,265.70 L140.00,269.80 L147.50,275.00" fill="none" stroke="#2ca02c" stroke-width="1.25" stroke-linejoin="round"/>
<path d="M33.40,168.60 L33.40,283.00 L33.90,279.30 L35.90,272.50 L38.80,266.70 L42.70,261.80 L46.60,258.90 L51.50,256.00 L55.40,254.00 L60.00,252.00 L70.00,251.00 L80.00,252.00 L100.00,256.00 L117.00,260.00 L129.60,271.90 L146.20,277.10 L147.50,277.50" fill="none" stroke="#17becf" stroke-width="1.25" stroke-linejoin="round"/>
<path d="M35.30,168.60 L35.30,200.00 L35.30,220.00 L36.80,227.40 L38.60,232.00 L39.80,245.50 L40.30,254.20 L43.70,259.80 L60.00,260.00 L80.00,260.00 L100.00,259.00 L117.10,261.50 L119.20,265.70 L125.40,269.80 L135.80,274.00 L147.50,276.50" fill="none" stroke="#1f77b4" stroke-width="1.25" stroke-linejoin="round"/>
<path d="M56.30,168.60 L57.30,174.70 L59.20,184.50 L61.20,200.10 L63.10,211.80 L64.80,229.10 L68.00,240.00 L80.00,248.00 L100.00,253.00 L118.10,257.30 L121.30,263.60 L129.60,269.80 L140.00,274.00 L147.50,276.50" fill="none" stroke="#9467bd" stroke-width="1.25" stroke-linejoin="round"/>
<path d="M33.90,168.60 L42.70,168.60 L42.70,176.70 L45.60,177.70 L51.40,174.70 L57.30,172.80 L63.10,172.40 L66.10,173.80 L70.90,176.70 L73.90,180.60 L78.70,184.50 L82.60,185.50 L85.60,188.40 L88.50,193.30 L91.90,194.20 L94.80,200.10 L96.80,205.90 L98.70,213.70 L102.60,220.60 L106.50,223.50 L108.80,228.20 L115.00,236.60 L119.20,242.80 L123.30,251.10 L127.50,259.40 L131.70,263.60 L137.90,269.80 L144.10,274.00 L147.50,276.00" fill="none" stroke="#d62728" stroke-width="1.25" stroke-linejoin="round"/>
</g>
<rect x="35.60" y="229.10" width="82.60" height="51.20" rx="1.5" fill="#fff" fill-opacity="0.8" stroke="#d8d8d8" stroke-width="0.6"/>
<line x1="37.80" y1="233.70" x2="50.20" y2="233.70" stroke="#bcbd22" stroke-width="1.6" stroke-opacity="0.85"/>
<text x="54.20" y="235.70" font-size="6.22" textLength="30.15" lengthAdjust="spacingAndGlyphs" fill="#000" stroke="#000" stroke-width="0.2">DROCC(PR</text>
<text x="86.15" y="235.70" font-size="6.22" textLength="4.73" lengthAdjust="spacingAndGlyphs" fill="#000" stroke="#000" stroke-width="0.2">=</text>
<text x="92.68" y="235.70" font-size="6.22" textLength="14.78" lengthAdjust="spacingAndGlyphs" fill="#000" stroke="#000" stroke-width="0.2">0.43)</text>
<line x1="37.80" y1="241.95" x2="50.20" y2="241.95" stroke="#2ca02c" stroke-width="1.6" stroke-opacity="0.85"/>
<text x="54.20" y="243.95" font-size="6.22" textLength="36.33" lengthAdjust="spacingAndGlyphs" fill="#000" stroke="#000" stroke-width="0.2">DeepSAD(PR</text>
<text x="92.33" y="243.95" font-size="6.22" textLength="4.73" lengthAdjust="spacingAndGlyphs" fill="#000" stroke="#000" stroke-width="0.2">=</text>
<text x="98.86" y="243.95" font-size="6.22" textLength="14.78" lengthAdjust="spacingAndGlyphs" fill="#000" stroke="#000" stroke-width="0.2">0.44)</text>
<line x1="37.80" y1="250.20" x2="50.20" y2="250.20" stroke="#17becf" stroke-width="1.6" stroke-opacity="0.85"/>
<text x="54.20" y="252.20" font-size="6.22" textLength="25.58" lengthAdjust="spacingAndGlyphs" fill="#000" stroke="#000" stroke-width="0.2">USAD(PR</text>
<text x="81.58" y="252.20" font-size="6.22" textLength="4.73" lengthAdjust="spacingAndGlyphs" fill="#000" stroke="#000" stroke-width="0.2">=</text>
<text x="88.11" y="252.20" font-size="6.22" textLength="14.78" lengthAdjust="spacingAndGlyphs" fill="#000" stroke="#000" stroke-width="0.2">0.18)</text>
<line x1="37.80" y1="258.45" x2="50.20" y2="258.45" stroke="#1f77b4" stroke-width="1.6" stroke-opacity="0.85"/>
<text x="54.20" y="260.45" font-size="6.22" textLength="25.26" lengthAdjust="spacingAndGlyphs" fill="#000" stroke="#000" stroke-width="0.2">GANF(PR</text>
<text x="81.25" y="260.45" font-size="6.22" textLength="4.73" lengthAdjust="spacingAndGlyphs" fill="#000" stroke="#000" stroke-width="0.2">=</text>
<text x="87.78" y="260.45" font-size="6.22" textLength="14.78" lengthAdjust="spacingAndGlyphs" fill="#000" stroke="#000" stroke-width="0.2">0.23)</text>
<line x1="37.80" y1="266.70" x2="50.20" y2="266.70" stroke="#9467bd" stroke-width="1.6" stroke-opacity="0.85"/>
<text x="54.20" y="268.70" font-size="6.22" textLength="38.47" lengthAdjust="spacingAndGlyphs" fill="#000" stroke="#000" stroke-width="0.2">MTGFLOW(PR</text>
<text x="94.47" y="268.70" font-size="6.22" textLength="4.73" lengthAdjust="spacingAndGlyphs" fill="#000" stroke="#000" stroke-width="0.2">=</text>
<text x="101.00" y="268.70" font-size="6.22" textLength="14.78" lengthAdjust="spacingAndGlyphs" fill="#000" stroke="#000" stroke-width="0.2">0.42)</text>
<line x1="37.80" y1="274.95" x2="50.20" y2="274.95" stroke="#d62728" stroke-width="1.6" stroke-opacity="0.85"/>
<text x="54.20" y="276.95" font-size="6.22" textLength="21.61" lengthAdjust="spacingAndGlyphs" fill="#000" stroke="#000" stroke-width="0.2">USD(PR</text>
<text x="77.61" y="276.95" font-size="6.22" textLength="4.73" lengthAdjust="spacingAndGlyphs" fill="#000" stroke="#000" stroke-width="0.2">=</text>
<text x="84.14" y="276.95" font-size="6.22" textLength="14.78" lengthAdjust="spacingAndGlyphs" fill="#000" stroke="#000" stroke-width="0.2">0.64)</text>
<rect x="33.0" y="168.3" width="114.8" height="115.00" fill="none" stroke="#666" stroke-width="0.9"/>
<line x1="31.2" y1="283.30" x2="33.0" y2="283.30" stroke="#444" stroke-width="0.9"/>
<text x="28.00" y="287.90" font-size="10.26" text-anchor="end" textLength="15.11" lengthAdjust="spacingAndGlyphs" fill="#000" stroke="#000" stroke-width="0.45" >0.0</text>
<line x1="31.2" y1="260.30" x2="33.0" y2="260.30" stroke="#444" stroke-width="0.9"/>
<text x="28.00" y="264.90" font-size="10.26" text-anchor="end" textLength="15.11" lengthAdjust="spacingAndGlyphs" fill="#000" stroke="#000" stroke-width="0.45" >0.2</text>
<line x1="31.2" y1="237.30" x2="33.0" y2="237.30" stroke="#444" stroke-width="0.9"/>
<text x="28.00" y="241.90" font-size="10.26" text-anchor="end" textLength="15.11" lengthAdjust="spacingAndGlyphs" fill="#000" stroke="#000" stroke-width="0.45" >0.4</text>
<line x1="31.2" y1="214.30" x2="33.0" y2="214.30" stroke="#444" stroke-width="0.9"/>
<text x="28.00" y="218.90" font-size="10.26" text-anchor="end" textLength="15.11" lengthAdjust="spacingAndGlyphs" fill="#000" stroke="#000" stroke-width="0.45" >0.6</text>
<line x1="31.2" y1="191.30" x2="33.0" y2="191.30" stroke="#444" stroke-width="0.9"/>
<text x="28.00" y="195.90" font-size="10.26" text-anchor="end" textLength="15.11" lengthAdjust="spacingAndGlyphs" fill="#000" stroke="#000" stroke-width="0.45" >0.8</text>
<line x1="31.2" y1="168.30" x2="33.0" y2="168.30" stroke="#444" stroke-width="0.9"/>
<text x="28.00" y="172.90" font-size="10.26" text-anchor="end" textLength="15.11" lengthAdjust="spacingAndGlyphs" fill="#000" stroke="#000" stroke-width="0.45" >1.0</text>
<line x1="33.00" y1="283.3" x2="33.00" y2="285.1" stroke="#444" stroke-width="0.9"/>
<text x="33.20" y="295.10" font-size="10.26" text-anchor="middle" textLength="15.11" lengthAdjust="spacingAndGlyphs" fill="#000" stroke="#000" stroke-width="0.45" >0.0</text>
<line x1="90.40" y1="283.3" x2="90.40" y2="285.1" stroke="#444" stroke-width="0.9"/>
<text x="90.60" y="295.10" font-size="10.26" text-anchor="middle" textLength="15.11" lengthAdjust="spacingAndGlyphs" fill="#000" stroke="#000" stroke-width="0.45" >0.5</text>
<line x1="147.80" y1="283.3" x2="147.80" y2="285.1" stroke="#444" stroke-width="0.9"/>
<text x="148.00" y="295.10" font-size="10.26" text-anchor="middle" textLength="15.11" lengthAdjust="spacingAndGlyphs" fill="#000" stroke="#000" stroke-width="0.45" >1.0</text>
<text x="90.70" y="307.00" font-size="10.00" text-anchor="middle" textLength="29.24" lengthAdjust="spacingAndGlyphs" fill="#000" stroke="#000" stroke-width="0.45" >Recall</text>
<text x="0.00" y="0.00" font-size="9.51" text-anchor="middle" textLength="43.73" lengthAdjust="spacingAndGlyphs" fill="#000" stroke="#000" stroke-width="0.45" transform="translate(9.30,225.80) rotate(-90)">Precision</text>
<clipPath id="c11"><rect x="194.5" y="168.3" width="115.0" height="115.00"/></clipPath>
<g clip-path="url(#c11)">
<path d="M194.80,283.50 L196.00,260.00 L200.00,250.00 L215.00,262.00 L235.00,268.00 L256.20,269.80 L277.00,269.80 L291.60,270.90 L309.30,272.70" fill="none" stroke="#bcbd22" stroke-width="1.25" stroke-linejoin="round"/>
<path d="M194.80,283.50 L197.00,250.00 L205.00,240.00 L220.00,228.00 L225.00,245.00 L240.00,262.00 L260.00,272.00 L277.00,274.00 L281.20,275.00 L291.60,276.50 L309.30,277.00" fill="none" stroke="#2ca02c" stroke-width="1.25" stroke-linejoin="round"/>
<path d="M199.50,168.60 L199.50,230.00 L197.90,233.20 L196.60,240.00 L201.80,230.00 L210.00,245.00 L230.00,252.00 L250.00,256.00 L268.70,258.40 L281.20,262.50 L289.50,263.60 L291.60,266.70 L309.30,271.60" fill="none" stroke="#17becf" stroke-width="1.25" stroke-linejoin="round"/>
<path d="M200.20,168.30 L200.20,219.60 L201.00,226.00 L204.00,231.00 L207.50,229.30 L209.40,226.50 L212.20,224.20 L215.90,221.40 L218.70,219.50 L223.40,218.60 L225.30,219.50 L228.10,222.30 L230.90,225.10 L234.70,228.90 L240.00,231.00 L248.00,231.00 L253.20,228.40 L257.10,227.40 L259.10,228.40 L262.00,229.40 L266.60,234.50 L270.80,251.10 L272.90,258.40 L281.20,260.50 L289.50,261.50 L291.60,265.70 L297.80,265.70 L302.00,267.70 L309.50,270.60" fill="none" stroke="#1f77b4" stroke-width="1.25" stroke-linejoin="round"/>
<path d="M201.40,168.30 L201.40,240.00 L203.00,245.00 L206.00,235.00 L209.40,228.90 L214.10,224.20 L219.70,221.80 L224.40,222.80 L228.10,221.80 L232.80,221.80 L236.60,221.40 L239.40,225.10 L243.10,226.10 L246.40,228.90 L250.30,229.40 L254.20,228.90 L264.00,233.00 L267.00,239.00 L269.50,250.00 L271.50,256.00 L273.00,259.40 L281.20,260.50 L291.60,259.40 L297.80,263.60 L304.10,266.70 L309.50,268.50" fill="none" stroke="#9467bd" stroke-width="1.25" stroke-linejoin="round"/>
<path d="M194.50,168.60 L194.50,283.50 L196.00,241.00 L197.20,230.60 L198.50,222.80 L199.20,228.00 L199.80,220.20 L201.10,217.60 L205.60,213.70 L211.50,210.80 L217.30,206.90 L223.20,207.90 L229.00,205.90 L232.90,206.90 L238.80,208.90 L244.60,207.90 L250.00,209.80 L253.90,211.80 L257.80,216.70 L261.70,221.50 L264.60,224.50 L268.70,228.20 L274.90,236.60 L281.20,242.80 L287.40,247.00 L291.60,252.10 L297.80,257.30 L304.10,261.50 L309.30,264.20" fill="none" stroke="#d62728" stroke-width="1.25" stroke-linejoin="round"/>
</g>
<rect x="197.10" y="229.10" width="82.60" height="51.20" rx="1.5" fill="#fff" fill-opacity="0.8" stroke="#d8d8d8" stroke-width="0.6"/>
<line x1="199.30" y1="233.70" x2="211.70" y2="233.70" stroke="#bcbd22" stroke-width="1.6" stroke-opacity="0.85"/>
<text x="215.70" y="235.70" font-size="6.22" textLength="30.15" lengthAdjust="spacingAndGlyphs" fill="#000" stroke="#000" stroke-width="0.2">DROCC(PR</text>
<text x="247.65" y="235.70" font-size="6.22" textLength="4.73" lengthAdjust="spacingAndGlyphs" fill="#000" stroke="#000" stroke-width="0.2">=</text>
<text x="254.18" y="235.70" font-size="6.22" textLength="14.78" lengthAdjust="spacingAndGlyphs" fill="#000" stroke="#000" stroke-width="0.2">0.13)</text>
<line x1="199.30" y1="241.95" x2="211.70" y2="241.95" stroke="#2ca02c" stroke-width="1.6" stroke-opacity="0.85"/>
<text x="215.70" y="243.95" font-size="6.22" textLength="36.33" lengthAdjust="spacingAndGlyphs" fill="#000" stroke="#000" stroke-width="0.2">DeepSAD(PR</text>
<text x="253.83" y="243.95" font-size="6.22" textLength="4.73" lengthAdjust="spacingAndGlyphs" fill="#000" stroke="#000" stroke-width="0.2">=</text>
<text x="260.36" y="243.95" font-size="6.22" textLength="14.78" lengthAdjust="spacingAndGlyphs" fill="#000" stroke="#000" stroke-width="0.2">0.19)</text>
<line x1="199.30" y1="250.20" x2="211.70" y2="250.20" stroke="#17becf" stroke-width="1.6" stroke-opacity="0.85"/>
<text x="215.70" y="252.20" font-size="6.22" textLength="25.58" lengthAdjust="spacingAndGlyphs" fill="#000" stroke="#000" stroke-width="0.2">USAD(PR</text>
<text x="243.08" y="252.20" font-size="6.22" textLength="4.73" lengthAdjust="spacingAndGlyphs" fill="#000" stroke="#000" stroke-width="0.2">=</text>
<text x="249.61" y="252.20" font-size="6.22" textLength="14.78" lengthAdjust="spacingAndGlyphs" fill="#000" stroke="#000" stroke-width="0.2">0.19)</text>
<line x1="199.30" y1="258.45" x2="211.70" y2="258.45" stroke="#1f77b4" stroke-width="1.6" stroke-opacity="0.85"/>
<text x="215.70" y="260.45" font-size="6.22" textLength="25.26" lengthAdjust="spacingAndGlyphs" fill="#000" stroke="#000" stroke-width="0.2">GANF(PR</text>
<text x="242.75" y="260.45" font-size="6.22" textLength="4.73" lengthAdjust="spacingAndGlyphs" fill="#000" stroke="#000" stroke-width="0.2">=</text>
<text x="249.28" y="260.45" font-size="6.22" textLength="14.78" lengthAdjust="spacingAndGlyphs" fill="#000" stroke="#000" stroke-width="0.2">0.40)</text>
<line x1="199.30" y1="266.70" x2="211.70" y2="266.70" stroke="#9467bd" stroke-width="1.6" stroke-opacity="0.85"/>
<text x="215.70" y="268.70" font-size="6.22" textLength="38.47" lengthAdjust="spacingAndGlyphs" fill="#000" stroke="#000" stroke-width="0.2">MTGFLOW(PR</text>
<text x="255.97" y="268.70" font-size="6.22" textLength="4.73" lengthAdjust="spacingAndGlyphs" fill="#000" stroke="#000" stroke-width="0.2">=</text>
<text x="262.50" y="268.70" font-size="6.22" textLength="14.78" lengthAdjust="spacingAndGlyphs" fill="#000" stroke="#000" stroke-width="0.2">0.41)</text>
<line x1="199.30" y1="274.95" x2="211.70" y2="274.95" stroke="#d62728" stroke-width="1.6" stroke-opacity="0.85"/>
<text x="215.70" y="276.95" font-size="6.22" textLength="21.61" lengthAdjust="spacingAndGlyphs" fill="#000" stroke="#000" stroke-width="0.2">USD(PR</text>
<text x="239.11" y="276.95" font-size="6.22" textLength="4.73" lengthAdjust="spacingAndGlyphs" fill="#000" stroke="#000" stroke-width="0.2">=</text>
<text x="245.64" y="276.95" font-size="6.22" textLength="14.78" lengthAdjust="spacingAndGlyphs" fill="#000" stroke="#000" stroke-width="0.2">0.49)</text>
<rect x="194.5" y="168.3" width="115.0" height="115.00" fill="none" stroke="#666" stroke-width="0.9"/>
<line x1="192.7" y1="283.30" x2="194.5" y2="283.30" stroke="#444" stroke-width="0.9"/>
<text x="189.50" y="287.90" font-size="10.26" text-anchor="end" textLength="15.11" lengthAdjust="spacingAndGlyphs" fill="#000" stroke="#000" stroke-width="0.45" >0.0</text>
<line x1="192.7" y1="260.30" x2="194.5" y2="260.30" stroke="#444" stroke-width="0.9"/>
<text x="189.50" y="264.90" font-size="10.26" text-anchor="end" textLength="15.11" lengthAdjust="spacingAndGlyphs" fill="#000" stroke="#000" stroke-width="0.45" >0.2</text>
<line x1="192.7" y1="237.30" x2="194.5" y2="237.30" stroke="#444" stroke-width="0.9"/>
<text x="189.50" y="241.90" font-size="10.26" text-anchor="end" textLength="15.11" lengthAdjust="spacingAndGlyphs" fill="#000" stroke="#000" stroke-width="0.45" >0.4</text>
<line x1="192.7" y1="214.30" x2="194.5" y2="214.30" stroke="#444" stroke-width="0.9"/>
<text x="189.50" y="218.90" font-size="10.26" text-anchor="end" textLength="15.11" lengthAdjust="spacingAndGlyphs" fill="#000" stroke="#000" stroke-width="0.45" >0.6</text>
<line x1="192.7" y1="191.30" x2="194.5" y2="191.30" stroke="#444" stroke-width="0.9"/>
<text x="189.50" y="195.90" font-size="10.26" text-anchor="end" textLength="15.11" lengthAdjust="spacingAndGlyphs" fill="#000" stroke="#000" stroke-width="0.45" >0.8</text>
<line x1="192.7" y1="168.30" x2="194.5" y2="168.30" stroke="#444" stroke-width="0.9"/>
<text x="189.50" y="172.90" font-size="10.26" text-anchor="end" textLength="15.11" lengthAdjust="spacingAndGlyphs" fill="#000" stroke="#000" stroke-width="0.45" >1.0</text>
<line x1="194.50" y1="283.3" x2="194.50" y2="285.1" stroke="#444" stroke-width="0.9"/>
<text x="194.70" y="295.10" font-size="10.26" text-anchor="middle" textLength="15.11" lengthAdjust="spacingAndGlyphs" fill="#000" stroke="#000" stroke-width="0.45" >0.0</text>
<line x1="252.00" y1="283.3" x2="252.00" y2="285.1" stroke="#444" stroke-width="0.9"/>
<text x="252.20" y="295.10" font-size="10.26" text-anchor="middle" textLength="15.11" lengthAdjust="spacingAndGlyphs" fill="#000" stroke="#000" stroke-width="0.45" >0.5</text>
<line x1="309.50" y1="283.3" x2="309.50" y2="285.1" stroke="#444" stroke-width="0.9"/>
<text x="309.70" y="295.10" font-size="10.26" text-anchor="middle" textLength="15.11" lengthAdjust="spacingAndGlyphs" fill="#000" stroke="#000" stroke-width="0.45" >1.0</text>
<text x="252.30" y="307.00" font-size="10.00" text-anchor="middle" textLength="29.24" lengthAdjust="spacingAndGlyphs" fill="#000" stroke="#000" stroke-width="0.45" >Recall</text>
<text x="0.00" y="0.00" font-size="9.51" text-anchor="middle" textLength="43.73" lengthAdjust="spacingAndGlyphs" fill="#000" stroke="#000" stroke-width="0.45" transform="translate(170.80,225.80) rotate(-90)">Precision</text>
<clipPath id="c12"><rect x="355.6" y="168.3" width="115.0" height="115.00"/></clipPath>
<g clip-path="url(#c12)">
<path d="M356.10,168.60 L358.90,170.80 L365.70,178.60 L373.50,185.50 L383.20,189.40 L393.00,192.30 L402.70,195.20 L412.00,199.10 L419.80,202.00 L425.60,207.90 L431.50,213.70 L435.40,217.60 L441.20,221.50 L447.10,224.50 L455.00,230.00 L459.80,232.40 L468.10,236.60 L470.90,237.60" fill="none" stroke="#bcbd22" stroke-width="1.25" stroke-linejoin="round"/>
<path d="M356.10,168.60 L357.90,169.90 L363.70,176.70 L369.60,184.50 L373.50,192.30 L379.30,200.10 L387.10,204.00 L393.00,205.90 L396.90,211.80 L399.80,219.60 L401.80,222.00 L404.90,226.20 L408.00,229.30 L412.00,230.70 L439.00,231.40 L449.40,231.40 L457.70,233.40 L464.00,235.50 L468.10,237.60 L470.90,238.60" fill="none" stroke="#2ca02c" stroke-width="1.25" stroke-linejoin="round"/>
<path d="M356.10,168.60 L357.90,168.60 L361.80,213.70 L362.80,225.00 L364.40,228.20 L368.60,231.40 L372.70,228.20 L379.00,224.10 L389.10,218.60 L398.80,216.10 L414.00,214.70 L423.70,216.10 L433.40,218.60 L443.20,222.50 L451.50,226.20 L457.70,230.30 L466.00,234.50 L470.90,237.60" fill="none" stroke="#17becf" stroke-width="1.25" stroke-linejoin="round"/>
<path d="M356.10,168.60 L361.80,168.90 L364.70,171.80 L367.60,178.60 L369.60,184.50 L373.50,190.30 L379.30,196.20 L385.20,201.10 L393.00,204.00 L400.80,205.00 L412.00,204.00 L421.70,203.00 L431.50,203.60 L441.20,205.90 L449.00,210.80 L454.90,217.60 L462.70,222.50 L467.10,228.20 L470.20,234.50 L470.90,237.60" fill="none" stroke="#1f77b4" stroke-width="1.25" stroke-linejoin="round"/>
<path d="M356.10,168.60 L380.30,168.60 L389.10,169.90 L394.90,173.80 L400.80,178.60 L406.60,183.50 L411.50,188.40 L414.00,190.30 L419.80,194.20 L427.60,199.10 L437.30,204.00 L445.10,209.80 L450.00,217.60 L453.90,224.00 L456.70,226.20 L461.90,230.30 L467.10,234.50 L470.90,237.60" fill="none" stroke="#9467bd" stroke-width="1.25" stroke-linejoin="round"/>
<path d="M356.10,168.60 L357.90,168.60 L361.80,172.80 L366.70,178.60 L371.50,181.60 L381.30,183.50 L393.00,181.60 L402.70,180.60 L412.00,179.00 L421.70,178.60 L429.50,181.60 L441.20,183.50 L451.00,185.50 L456.80,191.30 L460.70,200.10 L464.60,211.80 L466.60,221.50 L469.20,228.20 L470.90,237.00" fill="none" stroke="#d62728" stroke-width="1.25" stroke-linejoin="round"/>
</g>
<rect x="358.20" y="229.10" width="82.60" height="51.20" rx="1.5" fill="#fff" fill-opacity="0.8" stroke="#d8d8d8" stroke-width="0.6"/>
<line x1="360.40" y1="233.70" x2="372.80" y2="233.70" stroke="#bcbd22" stroke-width="1.6" stroke-opacity="0.85"/>
<text x="376.80" y="235.70" font-size="6.22" textLength="30.15" lengthAdjust="spacingAndGlyphs" fill="#000" stroke="#000" stroke-width="0.2">DROCC(PR</text>
<text x="408.75" y="235.70" font-size="6.22" textLength="4.73" lengthAdjust="spacingAndGlyphs" fill="#000" stroke="#000" stroke-width="0.2">=</text>
<text x="415.28" y="235.70" font-size="6.22" textLength="14.78" lengthAdjust="spacingAndGlyphs" fill="#000" stroke="#000" stroke-width="0.2">0.69)</text>
<line x1="360.40" y1="241.95" x2="372.80" y2="241.95" stroke="#2ca02c" stroke-width="1.6" stroke-opacity="0.85"/>
<text x="376.80" y="243.95" font-size="6.22" textLength="36.33" lengthAdjust="spacingAndGlyphs" fill="#000" stroke="#000" stroke-width="0.2">DeepSAD(PR</text>
<text x="414.93" y="243.95" font-size="6.22" textLength="4.73" lengthAdjust="spacingAndGlyphs" fill="#000" stroke="#000" stroke-width="0.2">=</text>
<text x="421.46" y="243.95" font-size="6.22" textLength="14.78" lengthAdjust="spacingAndGlyphs" fill="#000" stroke="#000" stroke-width="0.2">0.58)</text>
<line x1="360.40" y1="250.20" x2="372.80" y2="250.20" stroke="#17becf" stroke-width="1.6" stroke-opacity="0.85"/>
<text x="376.80" y="252.20" font-size="6.22" textLength="25.58" lengthAdjust="spacingAndGlyphs" fill="#000" stroke="#000" stroke-width="0.2">USAD(PR</text>
<text x="404.18" y="252.20" font-size="6.22" textLength="4.73" lengthAdjust="spacingAndGlyphs" fill="#000" stroke="#000" stroke-width="0.2">=</text>
<text x="410.71" y="252.20" font-size="6.22" textLength="14.78" lengthAdjust="spacingAndGlyphs" fill="#000" stroke="#000" stroke-width="0.2">0.55)</text>
<line x1="360.40" y1="258.45" x2="372.80" y2="258.45" stroke="#1f77b4" stroke-width="1.6" stroke-opacity="0.85"/>
<text x="376.80" y="260.45" font-size="6.22" textLength="25.26" lengthAdjust="spacingAndGlyphs" fill="#000" stroke="#000" stroke-width="0.2">GANF(PR</text>
<text x="403.85" y="260.45" font-size="6.22" textLength="4.73" lengthAdjust="spacingAndGlyphs" fill="#000" stroke="#000" stroke-width="0.2">=</text>
<text x="410.38" y="260.45" font-size="6.22" textLength="14.78" lengthAdjust="spacingAndGlyphs" fill="#000" stroke="#000" stroke-width="0.2">0.71)</text>
<line x1="360.40" y1="266.70" x2="372.80" y2="266.70" stroke="#9467bd" stroke-width="1.6" stroke-opacity="0.85"/>
<text x="376.80" y="268.70" font-size="6.22" textLength="38.47" lengthAdjust="spacingAndGlyphs" fill="#000" stroke="#000" stroke-width="0.2">MTGFLOW(PR</text>
<text x="417.07" y="268.70" font-size="6.22" textLength="4.73" lengthAdjust="spacingAndGlyphs" fill="#000" stroke="#000" stroke-width="0.2">=</text>
<text x="423.60" y="268.70" font-size="6.22" textLength="14.78" lengthAdjust="spacingAndGlyphs" fill="#000" stroke="#000" stroke-width="0.2">0.79)</text>
<line x1="360.40" y1="274.95" x2="372.80" y2="274.95" stroke="#d62728" stroke-width="1.6" stroke-opacity="0.85"/>
<text x="376.80" y="276.95" font-size="6.22" textLength="21.61" lengthAdjust="spacingAndGlyphs" fill="#000" stroke="#000" stroke-width="0.2">USD(PR</text>
<text x="400.21" y="276.95" font-size="6.22" textLength="4.73" lengthAdjust="spacingAndGlyphs" fill="#000" stroke="#000" stroke-width="0.2">=</text>
<text x="406.74" y="276.95" font-size="6.22" textLength="14.78" lengthAdjust="spacingAndGlyphs" fill="#000" stroke="#000" stroke-width="0.2">0.86)</text>
<rect x="355.6" y="168.3" width="115.0" height="115.00" fill="none" stroke="#666" stroke-width="0.9"/>
<line x1="353.8" y1="283.30" x2="355.6" y2="283.30" stroke="#444" stroke-width="0.9"/>
<text x="350.60" y="287.90" font-size="10.26" text-anchor="end" textLength="15.11" lengthAdjust="spacingAndGlyphs" fill="#000" stroke="#000" stroke-width="0.45" >0.0</text>
<line x1="353.8" y1="260.30" x2="355.6" y2="260.30" stroke="#444" stroke-width="0.9"/>
<text x="350.60" y="264.90" font-size="10.26" text-anchor="end" textLength="15.11" lengthAdjust="spacingAndGlyphs" fill="#000" stroke="#000" stroke-width="0.45" >0.2</text>
<line x1="353.8" y1="237.30" x2="355.6" y2="237.30" stroke="#444" stroke-width="0.9"/>
<text x="350.60" y="241.90" font-size="10.26" text-anchor="end" textLength="15.11" lengthAdjust="spacingAndGlyphs" fill="#000" stroke="#000" stroke-width="0.45" >0.4</text>
<line x1="353.8" y1="214.30" x2="355.6" y2="214.30" stroke="#444" stroke-width="0.9"/>
<text x="350.60" y="218.90" font-size="10.26" text-anchor="end" textLength="15.11" lengthAdjust="spacingAndGlyphs" fill="#000" stroke="#000" stroke-width="0.45" >0.6</text>
<line x1="353.8" y1="191.30" x2="355.6" y2="191.30" stroke="#444" stroke-width="0.9"/>
<text x="350.60" y="195.90" font-size="10.26" text-anchor="end" textLength="15.11" lengthAdjust="spacingAndGlyphs" fill="#000" stroke="#000" stroke-width="0.45" >0.8</text>
<line x1="353.8" y1="168.30" x2="355.6" y2="168.30" stroke="#444" stroke-width="0.9"/>
<text x="350.60" y="172.90" font-size="10.26" text-anchor="end" textLength="15.11" lengthAdjust="spacingAndGlyphs" fill="#000" stroke="#000" stroke-width="0.45" >1.0</text>
<line x1="355.60" y1="283.3" x2="355.60" y2="285.1" stroke="#444" stroke-width="0.9"/>
<text x="355.80" y="295.10" font-size="10.26" text-anchor="middle" textLength="15.11" lengthAdjust="spacingAndGlyphs" fill="#000" stroke="#000" stroke-width="0.45" >0.0</text>
<line x1="413.10" y1="283.3" x2="413.10" y2="285.1" stroke="#444" stroke-width="0.9"/>
<text x="413.30" y="295.10" font-size="10.26" text-anchor="middle" textLength="15.11" lengthAdjust="spacingAndGlyphs" fill="#000" stroke="#000" stroke-width="0.45" >0.5</text>
<line x1="470.60" y1="283.3" x2="470.60" y2="285.1" stroke="#444" stroke-width="0.9"/>
<text x="470.80" y="295.10" font-size="10.26" text-anchor="middle" textLength="15.11" lengthAdjust="spacingAndGlyphs" fill="#000" stroke="#000" stroke-width="0.45" >1.0</text>
<text x="413.40" y="307.00" font-size="10.00" text-anchor="middle" textLength="29.24" lengthAdjust="spacingAndGlyphs" fill="#000" stroke="#000" stroke-width="0.45" >Recall</text>
<text x="0.00" y="0.00" font-size="9.51" text-anchor="middle" textLength="43.73" lengthAdjust="spacingAndGlyphs" fill="#000" stroke="#000" stroke-width="0.45" transform="translate(331.90,225.80) rotate(-90)">Precision</text>
<clipPath id="c13"><rect x="517.0" y="168.3" width="115.0" height="115.00"/></clipPath>
<g clip-path="url(#c13)">
<path d="M632.30,275.00 L600.00,274.50 L563.70,274.20 L540.40,273.40 L532.60,271.80 L526.30,268.70 L523.20,265.60 L520.10,260.90 L519.30,257.80 L517.80,253.10 L517.50,230.00 L517.50,168.60" fill="none" stroke="#bcbd22" stroke-width="1.25" stroke-linejoin="round"/>
<path d="M519.30,205.00 L519.70,189.90 L521.70,180.80 L524.00,183.00 L526.90,181.40 L529.50,180.10 L530.80,184.70 L531.40,191.20 L532.10,200.00 L532.50,204.00 L533.90,218.50 L536.50,222.40 L539.10,225.00 L541.00,228.90 L545.00,235.00 L555.00,255.00 L570.00,266.00 L600.00,271.50 L632.30,275.00" fill="none" stroke="#2ca02c" stroke-width="1.25" stroke-linejoin="round"/>
<path d="M522.30,168.60 L522.30,177.00 L523.90,181.60 L527.30,180.00 L531.80,177.70 L536.40,175.50 L540.50,174.20 L542.50,174.30 L546.60,174.50 L546.60,200.00 L546.20,227.60 L548.00,250.00 L555.00,262.00 L570.00,268.00 L602.10,271.90 L632.30,275.00" fill="none" stroke="#17becf" stroke-width="1.25" stroke-linejoin="round"/>
<path d="M522.30,168.60 L522.30,177.00 L523.90,181.60 L527.30,180.00 L531.80,177.70 L536.40,175.50 L540.50,174.20 L542.50,174.30 L546.20,174.30 L546.20,225.00 L546.20,240.00 L550.00,262.00 L560.00,268.00 L580.00,272.00 L600.00,272.90 L614.60,273.60 L632.30,275.00" fill="none" stroke="#1f77b4" stroke-width="1.25" stroke-linejoin="round"/>
<path d="M519.10,168.60 L519.10,190.00 L519.50,204.00 L519.70,195.00 L521.70,186.00 L523.90,182.20 L527.30,180.60 L531.80,178.30 L536.40,176.10 L539.20,175.30 L539.90,177.00 L540.10,194.20 L541.00,212.00 L542.30,219.80 L543.60,223.70 L544.90,225.00 L545.10,226.00 L548.00,245.00 L556.00,259.40 L570.00,266.00 L600.00,271.00 L632.30,275.00" fill="none" stroke="#9467bd" stroke-width="1.25" stroke-linejoin="round"/>
<path d="M522.30,168.60 L522.30,177.00 L523.90,181.60 L527.30,180.00 L531.80,177.70 L536.40,175.50 L540.50,174.20 L544.30,173.20 L545.00,173.80 L544.60,194.20 L545.20,213.70 L545.60,228.90 L546.50,236.00 L548.20,243.80 L554.40,254.70 L560.60,258.60 L566.80,260.90 L573.00,262.00 L600.00,265.70 L604.20,267.70 L614.60,269.80 L622.90,270.90 L629.10,272.90 L632.30,275.00" fill="none" stroke="#d62728" stroke-width="1.25" stroke-linejoin="round"/>
</g>
<rect x="519.60" y="229.10" width="82.60" height="51.20" rx="1.5" fill="#fff" fill-opacity="0.8" stroke="#d8d8d8" stroke-width="0.6"/>
<line x1="521.80" y1="233.70" x2="534.20" y2="233.70" stroke="#bcbd22" stroke-width="1.6" stroke-opacity="0.85"/>
<text x="538.20" y="235.70" font-size="6.22" textLength="30.15" lengthAdjust="spacingAndGlyphs" fill="#000" stroke="#000" stroke-width="0.2">DROCC(PR</text>
<text x="570.15" y="235.70" font-size="6.22" textLength="4.73" lengthAdjust="spacingAndGlyphs" fill="#000" stroke="#000" stroke-width="0.2">=</text>
<text x="576.68" y="235.70" font-size="6.22" textLength="14.78" lengthAdjust="spacingAndGlyphs" fill="#000" stroke="#000" stroke-width="0.2">0.09)</text>
<line x1="521.80" y1="241.95" x2="534.20" y2="241.95" stroke="#2ca02c" stroke-width="1.6" stroke-opacity="0.85"/>
<text x="538.20" y="243.95" font-size="6.22" textLength="36.33" lengthAdjust="spacingAndGlyphs" fill="#000" stroke="#000" stroke-width="0.2">DeepSAD(PR</text>
<text x="576.33" y="243.95" font-size="6.22" textLength="4.73" lengthAdjust="spacingAndGlyphs" fill="#000" stroke="#000" stroke-width="0.2">=</text>
<text x="582.86" y="243.95" font-size="6.22" textLength="14.78" lengthAdjust="spacingAndGlyphs" fill="#000" stroke="#000" stroke-width="0.2">0.26)</text>
<line x1="521.80" y1="250.20" x2="534.20" y2="250.20" stroke="#17becf" stroke-width="1.6" stroke-opacity="0.85"/>
<text x="538.20" y="252.20" font-size="6.22" textLength="25.58" lengthAdjust="spacingAndGlyphs" fill="#000" stroke="#000" stroke-width="0.2">USAD(PR</text>
<text x="565.58" y="252.20" font-size="6.22" textLength="4.73" lengthAdjust="spacingAndGlyphs" fill="#000" stroke="#000" stroke-width="0.2">=</text>
<text x="572.11" y="252.20" font-size="6.22" textLength="14.78" lengthAdjust="spacingAndGlyphs" fill="#000" stroke="#000" stroke-width="0.2">0.31)</text>
<line x1="521.80" y1="258.45" x2="534.20" y2="258.45" stroke="#1f77b4" stroke-width="1.6" stroke-opacity="0.85"/>
<text x="538.20" y="260.45" font-size="6.22" textLength="25.26" lengthAdjust="spacingAndGlyphs" fill="#000" stroke="#000" stroke-width="0.2">GANF(PR</text>
<text x="565.25" y="260.45" font-size="6.22" textLength="4.73" lengthAdjust="spacingAndGlyphs" fill="#000" stroke="#000" stroke-width="0.2">=</text>
<text x="571.78" y="260.45" font-size="6.22" textLength="14.78" lengthAdjust="spacingAndGlyphs" fill="#000" stroke="#000" stroke-width="0.2">0.31)</text>
<line x1="521.80" y1="266.70" x2="534.20" y2="266.70" stroke="#9467bd" stroke-width="1.6" stroke-opacity="0.85"/>
<text x="538.20" y="268.70" font-size="6.22" textLength="38.47" lengthAdjust="spacingAndGlyphs" fill="#000" stroke="#000" stroke-width="0.2">MTGFLOW(PR</text>
<text x="578.47" y="268.70" font-size="6.22" textLength="4.73" lengthAdjust="spacingAndGlyphs" fill="#000" stroke="#000" stroke-width="0.2">=</text>
<text x="585.00" y="268.70" font-size="6.22" textLength="14.78" lengthAdjust="spacingAndGlyphs" fill="#000" stroke="#000" stroke-width="0.2">0.32)</text>
<line x1="521.80" y1="274.95" x2="534.20" y2="274.95" stroke="#d62728" stroke-width="1.6" stroke-opacity="0.85"/>
<text x="538.20" y="276.95" font-size="6.22" textLength="21.61" lengthAdjust="spacingAndGlyphs" fill="#000" stroke="#000" stroke-width="0.2">USD(PR</text>
<text x="561.61" y="276.95" font-size="6.22" textLength="4.73" lengthAdjust="spacingAndGlyphs" fill="#000" stroke="#000" stroke-width="0.2">=</text>
<text x="568.14" y="276.95" font-size="6.22" textLength="14.78" lengthAdjust="spacingAndGlyphs" fill="#000" stroke="#000" stroke-width="0.2">0.36)</text>
<rect x="517.0" y="168.3" width="115.0" height="115.00" fill="none" stroke="#666" stroke-width="0.9"/>
<line x1="515.2" y1="283.30" x2="517.0" y2="283.30" stroke="#444" stroke-width="0.9"/>
<text x="512.00" y="287.90" font-size="10.26" text-anchor="end" textLength="15.11" lengthAdjust="spacingAndGlyphs" fill="#000" stroke="#000" stroke-width="0.45" >0.0</text>
<line x1="515.2" y1="260.30" x2="517.0" y2="260.30" stroke="#444" stroke-width="0.9"/>
<text x="512.00" y="264.90" font-size="10.26" text-anchor="end" textLength="15.11" lengthAdjust="spacingAndGlyphs" fill="#000" stroke="#000" stroke-width="0.45" >0.2</text>
<line x1="515.2" y1="237.30" x2="517.0" y2="237.30" stroke="#444" stroke-width="0.9"/>
<text x="512.00" y="241.90" font-size="10.26" text-anchor="end" textLength="15.11" lengthAdjust="spacingAndGlyphs" fill="#000" stroke="#000" stroke-width="0.45" >0.4</text>
<line x1="515.2" y1="214.30" x2="517.0" y2="214.30" stroke="#444" stroke-width="0.9"/>
<text x="512.00" y="218.90" font-size="10.26" text-anchor="end" textLength="15.11" lengthAdjust="spacingAndGlyphs" fill="#000" stroke="#000" stroke-width="0.45" >0.6</text>
<line x1="515.2" y1="191.30" x2="517.0" y2="191.30" stroke="#444" stroke-width="0.9"/>
<text x="512.00" y="195.90" font-size="10.26" text-anchor="end" textLength="15.11" lengthAdjust="spacingAndGlyphs" fill="#000" stroke="#000" stroke-width="0.45" >0.8</text>
<line x1="515.2" y1="168.30" x2="517.0" y2="168.30" stroke="#444" stroke-width="0.9"/>
<text x="512.00" y="172.90" font-size="10.26" text-anchor="end" textLength="15.11" lengthAdjust="spacingAndGlyphs" fill="#000" stroke="#000" stroke-width="0.45" >1.0</text>
<line x1="517.00" y1="283.3" x2="517.00" y2="285.1" stroke="#444" stroke-width="0.9"/>
<text x="517.20" y="295.10" font-size="10.26" text-anchor="middle" textLength="15.11" lengthAdjust="spacingAndGlyphs" fill="#000" stroke="#000" stroke-width="0.45" >0.0</text>
<line x1="574.50" y1="283.3" x2="574.50" y2="285.1" stroke="#444" stroke-width="0.9"/>
<text x="574.70" y="295.10" font-size="10.26" text-anchor="middle" textLength="15.11" lengthAdjust="spacingAndGlyphs" fill="#000" stroke="#000" stroke-width="0.45" >0.5</text>
<line x1="632.00" y1="283.3" x2="632.00" y2="285.1" stroke="#444" stroke-width="0.9"/>
<text x="632.20" y="295.10" font-size="10.26" text-anchor="middle" textLength="15.11" lengthAdjust="spacingAndGlyphs" fill="#000" stroke="#000" stroke-width="0.45" >1.0</text>
<text x="574.80" y="307.00" font-size="10.00" text-anchor="middle" textLength="29.24" lengthAdjust="spacingAndGlyphs" fill="#000" stroke="#000" stroke-width="0.45" >Recall</text>
<text x="0.00" y="0.00" font-size="9.51" text-anchor="middle" textLength="43.73" lengthAdjust="spacingAndGlyphs" fill="#000" stroke="#000" stroke-width="0.45" transform="translate(493.30,225.80) rotate(-90)">Precision</text>
</svg></body></html>
